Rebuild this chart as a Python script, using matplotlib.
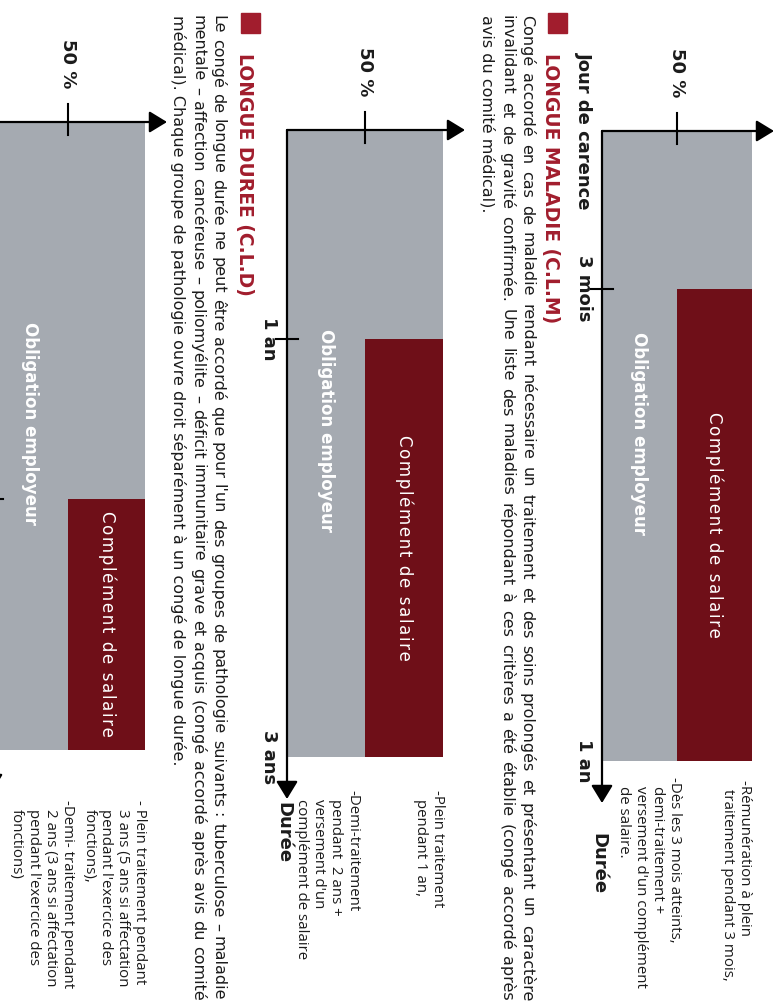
import matplotlib.pyplot as plt
from matplotlib.patches import Rectangle, ArrowStyle

W, H = 778, 1005

# durations in months, shares in % of the salary
full_pay_months = [3, 12, 36]
total_months = [12, 36, 60]
employer_after_pct = [50, 50, 50]
complement_pct = [50, 50, 50]

time_label_values = [[0, 3, 12], [12, 36], []]
time_label_texts = [["Jour de carence", "3 mois", "1 an"], ["1 an", "3 ans"], []]

band_employer = "Obligation employeur"
band_complement = "Complément de salaire"

notes_full = [
    ["-Rémunération à plein", "traitement pendant 3 mois,"],
    ["-Plein traitement", "pendant 1 an,"],
    ["- Plein traitement pendant", "3 ans (5 ans si affectation", "pendant l'exercice des", "fonctions),"],
]
notes_half = [
    ["-Dès les 3 mois atteints,", "demi-traitement +", "versement d'un complément", "de salaire."],
    ["-Demi-traitement", "pendant  2 ans +", "versement d'un", "complément de salaire"],
    ["-Demi- traitement pendant", "2 ans (3 ans si affectation", "pendant l'exercice des", "fonctions)"],
]

section_titles = ["LONGUE MALADIE (C.L.M)", "LONGUE DUREE (C.L.D)"]
section_lines = [
    ["Congé accordé en cas de maladie rendant nécessaire un traitement et des soins prolongés et présentant un caractère",
     "invalidant et de gravité confirmée. Une liste des maladies répondant à ces critères a été établie (congé accordé après",
     "avis du comité médical)."],
    ["Le congé de longue durée ne peut être accordé que pour l'un des groupes de pathologie suivants : tuberculose – maladie",
     "mentale – affection cancéreuse – poliomyélite – déficit immunitaire grave et acquis (congé accordé après avis du comité",
     "médical). Chaque groupe de pathologie ouvre droit séparément à un congé de longue durée."],
]

# layout of the rotated page (pixels)
origin_px = [(602, 131), (287, 130), (-8, 122)]
px_per_pct = [1.50, 1.56, 1.53]
px_per_month = [630 / 12, 627 / 36, 628 / 60]
duree_top_px = [833, 802, None]
notes_full_px = [(745, 780), (438, 790), (140, 800)]
notes_half_px = [(675, 777), (353, 790), (67, 800)]
title_px = [(551, 53), (244, 53)]
para_x_px = [(527, 507, 487), (218, 198, 178)]

GREY = '#a5aab1'
BAR_RED = '#6f0f18'
TITLE_RED = '#a11d2d'
INK = '#1b1b1b'

fig = plt.figure(figsize=(W / 100, H / 100), dpi=100)
fig.patch.set_facecolor('white')

arrow = dict(arrowstyle=ArrowStyle('-|>', head_length=0.9, head_width=0.55),
             mutation_scale=12, lw=1.6, color='black', shrinkA=0, shrinkB=0)

for i in range(3):
    x0, y0 = origin_px[i]
    sx, sy = px_per_pct[i], px_per_month[i]
    ax = fig.add_axes([0, 0, 1, 1])
    ax.set_xlim(-x0 / sx, (W - x0) / sx)
    ax.set_ylim((H - y0) / sy, -y0 / sy)
    ax.axis('off')

    full, total = full_pay_months[i], total_months[i]
    emp, comp = employer_after_pct[i], complement_pct[i]

    ax.barh(0, emp + comp, height=total, left=0, align='edge', color=GREY, zorder=1)
    ax.barh(full, comp, height=total - full, left=emp, align='edge', color=BAR_RED, zorder=2)

    # axes drawn as arrows
    ax.annotate('', xy=(emp + comp + 22 / sx, 0), xytext=(0, 0), arrowprops=arrow,
                annotation_clip=False, zorder=4)
    ax.annotate('', xy=(0, total + 42 / sy), xytext=(0, 0), arrowprops=arrow,
                annotation_clip=False, zorder=4)
    ax.plot([emp, emp], [-18 / sy, 13 / sy], color='black', lw=1.5, zorder=4, clip_on=False)
    ax.plot([-11 / sx, 11 / sx], [full, full], color='black', lw=1.5, zorder=4, clip_on=False)

    ax.text(emp, -58 / sy, '50 %', rotation=-90, ha='center', va='center',
            fontsize=13, fontweight='bold', color=INK)

    for v, lab in zip(time_label_values[i], time_label_texts[i]):
        ax.text(-18 / sx, v, lab, rotation=-90, ha='center', va='center',
                fontsize=13, fontweight='bold', color=INK)
    if duree_top_px[i] is not None:
        ax.text(-4 / sx, (duree_top_px[i] - y0) / sy, 'Durée', rotation=-90,
                ha='center', va='top', fontsize=13, fontweight='bold', color=INK)

    ax.text(emp / 2, 0.48 * total, band_employer, rotation=-90, ha='center', va='center',
            fontsize=12, fontweight='bold', color='white', zorder=5)
    ax.text(emp + comp / 2, (full + total) / 2, '\u200a'.join(band_complement), rotation=-90,
            ha='center', va='center', fontsize=12, color='white', zorder=5)

# page texts (titles, paragraphs, notes)
page = fig.add_axes([0, 0, 1, 1], zorder=10)
page.set_xlim(0, W)
page.set_ylim(H, 0)
page.axis('off')
renderer = fig.canvas.get_renderer()


def justify_line(line, x, y_start, y_end, **kw):
    words = line.split()
    texts = [page.text(x, y_start, w, rotation=-90, ha='center', va='top', **kw) for w in words]
    lengths = [t.get_window_extent(renderer).height for t in texts]
    gap = (y_end - y_start - sum(lengths)) / max(len(words) - 1, 1)
    y = y_start
    for t, length in zip(texts, lengths):
        t.set_y(y)
        y += length + gap


for k in range(2):
    tx, ty = title_px[k]
    page.add_patch(Rectangle((tx - 3, 13), 19, 20, color=TITLE_RED))
    page.text(tx, ty, section_titles[k], rotation=-90, ha='center', va='top',
              fontsize=13.5, fontweight='bold', color=TITLE_RED)
    lines = section_lines[k]
    for j, line in enumerate(lines):
        if j < len(lines) - 1:
            justify_line(line, para_x_px[k][j], 15, 1001, fontsize=11.5, color=INK)
        else:
            page.text(para_x_px[k][j], 15, line, rotation=-90, ha='center', va='top',
                      fontsize=11.5, color=INK)

for i in range(3):
    for block, (bx, by) in ((notes_full[i], notes_full_px[i]), (notes_half[i], notes_half_px[i])):
        for j, line in enumerate(block):
            page.text(bx - 17 * j, by + (0 if j == 0 else 9), line, rotation=-90,
                      ha='center', va='top', fontsize=10.8, family='Open Sans', color=INK)

fig.savefig('out.png', dpi=100)
